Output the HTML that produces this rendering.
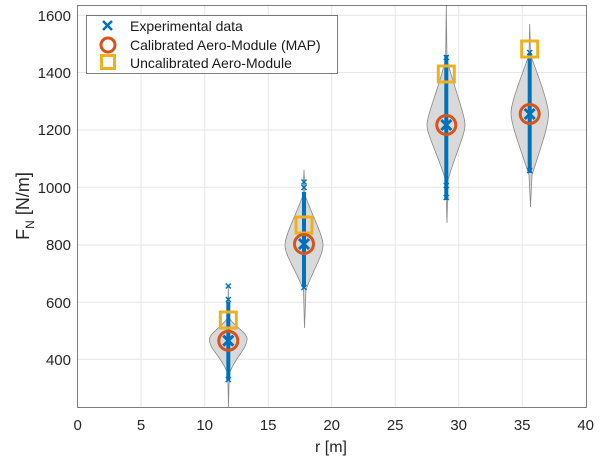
<!DOCTYPE html><html><head><style>body{margin:0;background:#fff}svg{display:block;font-family:"Liberation Sans",sans-serif}</style></head><body>
<svg width="600" height="461" viewBox="0 0 600 461">
<rect x="77.5" y="5.5" width="509" height="402" fill="#fff"/>
<g stroke="#e6e6e6" stroke-width="1">
<line x1="141" y1="5" x2="141" y2="407"/><line x1="204.7" y1="5" x2="204.7" y2="407"/><line x1="268.2" y1="5" x2="268.2" y2="407"/><line x1="331.7" y1="5" x2="331.7" y2="407"/><line x1="395.2" y1="5" x2="395.2" y2="407"/><line x1="458.7" y1="5" x2="458.7" y2="407"/><line x1="522.2" y1="5" x2="522.2" y2="407"/>
<line x1="77" y1="359.3" x2="587" y2="359.3"/><line x1="77" y1="302.3" x2="587" y2="302.3"/><line x1="77" y1="245" x2="587" y2="245"/><line x1="77" y1="187.3" x2="587" y2="187.3"/><line x1="77" y1="130" x2="587" y2="130"/><line x1="77" y1="72.5" x2="587" y2="72.5"/><line x1="77" y1="15.3" x2="587" y2="15.3"/>
</g>
<g fill="#d9d9d9" stroke="#888" stroke-width="0.8">
<path d="M228.3,287 L229,318 C236,328 248,333 247,340 C246,350 236,356 230,372 L229,385 L228.5,407 L228,385 L227,372 C221,356 210,350 209.5,340 C209,333 221,328 227.6,318 Z"/>
<path d="M304,170 L305,195 C312,215 323,235 323,245 C323,256 312,272 306,290 L304.5,328 L303.5,290 C297,272 285,256 285,245 C285,235 296,215 303,195 Z"/>
<path d="M446.3,5 L447,60 C455,90 465,115 465,125 C465,135 455,155 448,180 L447,223 L445.6,180 C438,155 427,135 427,125 C427,115 438,90 445.6,60 Z"/>
<path d="M529.7,24 L530.5,55 C540,80 548,103 548.5,113 C549,125 540,150 532,175 L530.5,207 L529,175 C521,150 511,125 511,113 C511,103 520,80 529,55 Z"/>
</g>
<g stroke="#0072bd" stroke-width="4">
<line x1="228.3" y1="302" x2="228.3" y2="380"/><line x1="304" y1="192" x2="304" y2="287"/><line x1="446.3" y1="55" x2="446.3" y2="200"/><line x1="529.7" y1="53" x2="529.7" y2="173"/>
</g>
<g stroke="#0072bd" stroke-width="1.5" fill="none">
<path d="M225.8,283.5l5,5m0,-5l-5,5M225.8,297l5,5m0,-5l-5,5M225.8,377l5,5m0,-5l-5,5"/>
<path d="M301.5,179.5l5,5m0,-5l-5,5M301.5,185l5,5m0,-5l-5,5M301.5,285l5,5m0,-5l-5,5"/>
<path d="M443.8,55l5,5m0,-5l-5,5M443.8,183l5,5m0,-5l-5,5M443.8,195l5,5m0,-5l-5,5"/>
<path d="M527.2,50l5,5m0,-5l-5,5M527.2,168l5,5m0,-5l-5,5"/>
</g>
<g stroke="#0072bd" stroke-width="3" fill="none">
<path d="M223.3,335.7l10,10m0,-10l-10,10M299,239l10,10m0,-10l-10,10M441.3,120l10,10m0,-10l-10,10M524.7,109l10,10m0,-10l-10,10"/>
</g>
<g fill="none" stroke="#edb120" stroke-width="3">
<rect x="220.3" y="312" width="16" height="16"/><rect x="296" y="217" width="16" height="16"/><rect x="438.3" y="66" width="16" height="16"/><rect x="521.7" y="41" width="16" height="16"/>
</g>
<g fill="none" stroke="#d95319" stroke-width="3">
<circle cx="228.3" cy="340.7" r="9.5"/><circle cx="304" cy="244" r="9.5"/><circle cx="446.3" cy="125" r="9.5"/><circle cx="529.7" cy="114" r="9.5"/>
</g>
<rect x="77.5" y="5.5" width="509" height="402" fill="none" stroke="#262626" stroke-opacity="0.6" stroke-width="1"/>
<rect x="86.5" y="15.5" width="251" height="58" fill="#fff" stroke="#262626" stroke-opacity="0.6"/>
<path d="M103,21l9,9m0,-9l-9,9" stroke="#0072bd" stroke-width="2.5"/>
<circle cx="108" cy="45" r="7" fill="none" stroke="#d95319" stroke-width="3"/>
<rect x="101.5" y="55.5" width="13" height="13" fill="none" stroke="#edb120" stroke-width="3"/>
<g font-size="14" fill="#1a1a1a">
<text x="130" y="31">Experimental data</text><text x="130" y="50">Calibrated Aero-Module (MAP)</text><text x="130" y="68">Uncalibrated Aero-Module</text>
</g>
<g font-size="15" fill="#262626" text-anchor="middle">
<text x="77.7" y="430">0</text><text x="141" y="430">5</text><text x="204.7" y="430">10</text><text x="268.2" y="430">15</text><text x="331.7" y="430">20</text><text x="395.2" y="430">25</text><text x="458.7" y="430">30</text><text x="522.2" y="430">35</text><text x="585.7" y="430">40</text>
<text x="331" y="452" font-size="16">r [m]</text>
</g>
<g font-size="15" fill="#262626" text-anchor="end">
<text x="71" y="365">400</text><text x="71" y="308">600</text><text x="71" y="250">800</text><text x="71" y="193">1000</text><text x="71" y="135">1200</text><text x="71" y="78">1400</text><text x="71" y="21">1600</text>
</g>
<text transform="translate(29,206) rotate(-90)" font-size="18" fill="#262626" text-anchor="middle">F<tspan font-size="12" dy="5">N</tspan><tspan dy="-5"> [N/m]</tspan></text>
</svg></body></html>
